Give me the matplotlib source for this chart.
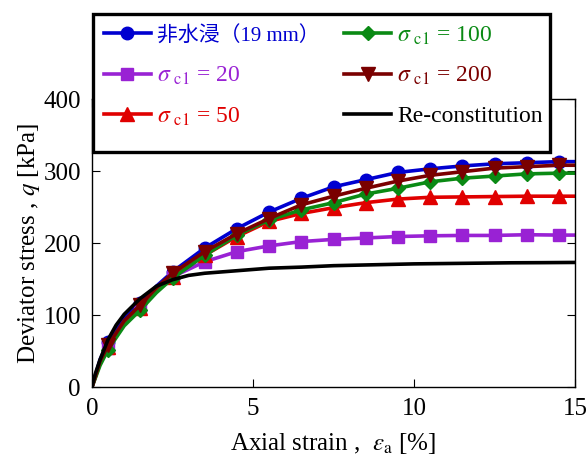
import matplotlib
matplotlib.use("Agg")
import matplotlib.pyplot as plt
from matplotlib.patches import Rectangle

plt.rcParams['font.family'] = ['Liberation Serif', 'Noto Sans CJK JP', 'DejaVu Sans']
plt.rcParams['mathtext.fontset'] = 'stix'

# ---- data ----
strain = [0, 0.25, 0.5, 1.0, 1.5, 2.0, 2.5, 3.5, 4.5, 5.5, 6.5, 7.5, 8.5, 9.5,
          10.5, 11.5, 12.5, 13.5, 14.5, 15.0]
q_unsoaked = [0, 38, 63, 95, 117, 140, 160, 193, 220, 243, 262, 278, 288, 298,
              303, 307, 310, 311.5, 313, 313]
q_s20 = [0, 33, 54, 88, 110, 134, 153, 174, 188, 196, 202, 205, 207, 209,
         210, 210.5, 210.5, 211.5, 211, 211]
q_s50 = [0, 34, 56, 88, 110, 134, 153, 183, 209, 230, 241, 249, 256, 261,
         263.5, 264, 264.5, 265, 265, 265]
q_s100 = [0, 30, 52, 85, 107, 131, 151, 183, 211, 232, 246, 256, 268, 276,
          285, 290, 293, 296, 297, 297]
q_s200 = [0, 36, 58, 92, 114, 138, 158, 188, 213, 234, 253, 265, 276, 286,
          294, 299, 304, 306, 308, 308]
strain_re = [0, 0.1, 0.25, 0.5, 0.75, 1.0, 1.5, 2.0, 2.5, 3.0, 3.5, 4.5, 5.5,
             6.5, 7.5, 9, 10, 11, 12, 13, 14, 15]
q_re = [0, 18, 38, 66, 86, 101, 123, 140, 149, 155, 158, 161.5, 165, 166.5,
        168.5, 170, 171, 171.5, 172, 172.5, 172.7, 173]
marker_idx = [2, 4, 6, 7, 8, 9, 10, 11, 12, 13, 14, 15, 16, 17, 18]

labels = ['非水浸（19 mm）',
          r'$\sigma\;{}_{\rm c1}$ = 20', r'$\sigma\;{}_{\rm c1}$ = 50',
          r'$\sigma\;{}_{\rm c1}$ = 100', r'$\sigma\;{}_{\rm c1}$ = 200',
          'Re-constitution']

W, H = 587, 458
fig = plt.figure(figsize=(W/100, H/100), dpi=100)
ax = fig.add_axes([92/W, 1-387/H, (575-92)/W, (387-99)/H])

series = [
    (q_unsoaked, '#0000D0', 'o', 9, labels[0]),
    (q_s20, '#9922D4', 's', 8.5, labels[1]),
    (q_s50, '#E00000', '^', 9.5, labels[2]),
    (q_s100, '#0A8A14', 'D', 7.5, labels[3]),
    (q_s200, '#7A0000', 'v', 10, labels[4]),
]
handles = []
for q, c, m, ms, lab in series:
    h, = ax.plot(strain, q, color=c, lw=2.6, marker=m, ms=ms,
                 markevery=marker_idx, label=lab)
    handles.append(h)
h, = ax.plot(strain_re, q_re, color='black', lw=2.6, label=labels[5])
handles.append(h)

ax.set_xlim(0, 15)
ax.set_ylim(0, 400)
ax.set_xticks([0, 5, 10, 15])
ax.set_yticks([0, 100, 200, 300, 400])
ax.tick_params(direction='in', labelsize=18, length=6, top=True, right=True,
               pad=8)
for s in ax.spines.values():
    s.set_linewidth(1.0)

ax.set_xlabel(r'Axial strain ,  $\varepsilon_{\rm a}$ [%]', fontsize=18, labelpad=8)
ax.set_ylabel(r'Deviator stress , $q$ [kPa]', fontsize=18, labelpad=1)

# legend frame box
frame = Rectangle((93/W, 1-152/H), (550-93)/W, (152-14)/H,
                  transform=fig.transFigure, facecolor='white',
                  edgecolor='black', linewidth=2.4, zorder=4)
fig.patches.append(frame)

leg = fig.legend(handles=handles, labels=labels, ncol=2,
                 loc='upper left', bbox_to_anchor=(93/W, 1-14/H),
                 fontsize=17, frameon=False,
                 handlelength=2.0, handletextpad=0.25, columnspacing=1.05,
                 labelspacing=0.77, borderpad=0.45, borderaxespad=0)
leg.set_zorder(5)
texts = leg.get_texts()
texts[0].set_fontsize(15)
for t, hnd in zip(texts, handles):
    t.set_color(hnd.get_color())

fig.savefig('out.png', dpi=100)
